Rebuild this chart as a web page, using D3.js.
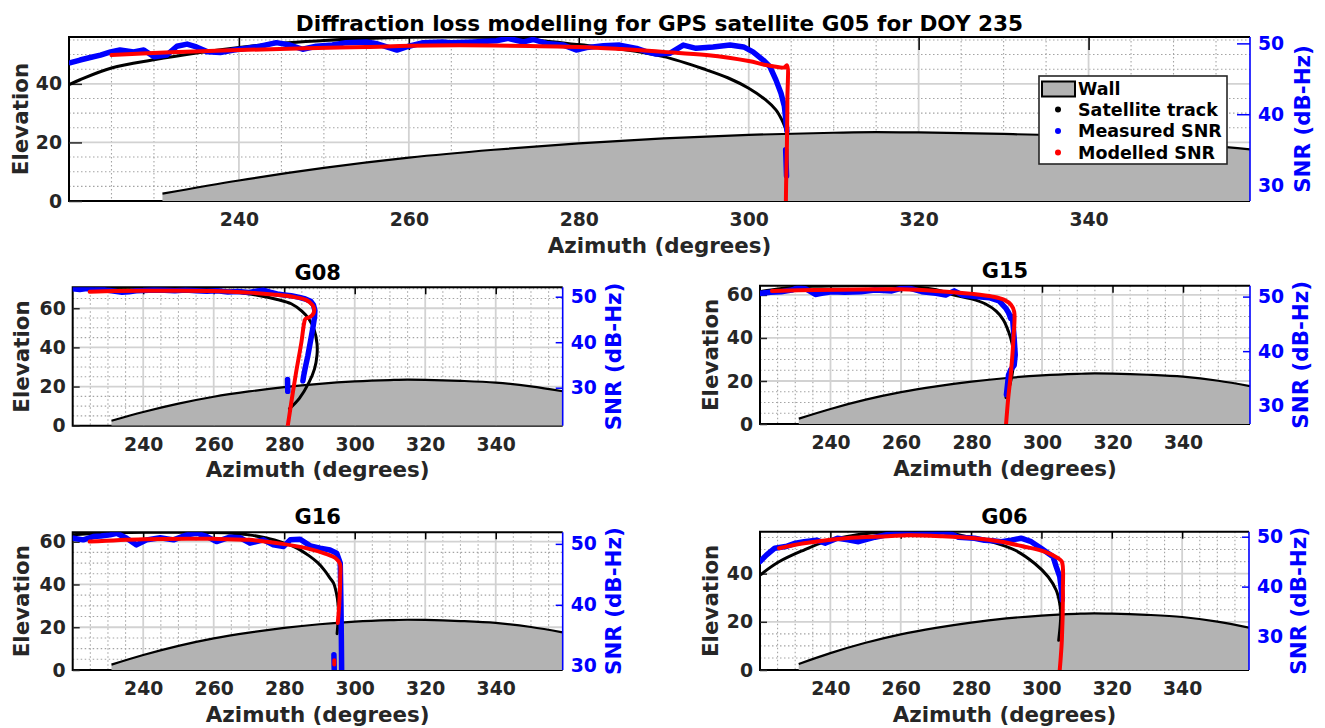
<!DOCTYPE html>
<html>
<head>
<meta charset="utf-8">
<script src="https://cdn.jsdelivr.net/npm/d3@7"></script>
<style>
  body { margin: 0; background: #fff; }
  svg { display: block; }
  text { font-family: "DejaVu Sans", sans-serif; font-weight: bold; }
</style>
</head>
<body>
<svg id="fig" width="1325" height="728"></svg>
<script>
// ---------- shared axis settings ----------
const azDomain = [220, 359];
const azTicks = [240, 260, 280, 300, 320, 340];
const snrTicks = [30, 40, 50];

// Wall profile: [azimuth, elevation]
const wall = [[231,2.5],[240,7.0],[250,11.3],[260,14.8],[270,17.5],[280,19.7],[290,21.4],[300,22.6],
  [310,23.3],[315,23.5],[320,23.4],[330,22.9],[340,22.0],[350,20.1],[359,17.6]];

// ---------- per-satellite settings ----------
const titles = ['Diffraction loss modelling for GPS satellite G05 for DOY 235', 'G08', 'G15', 'G16', 'G06'];
const elevMax = [56, 70.7, 64.3, 64.4, 57.4];
const elevTicks = [[0,20,40],[0,20,40,60],[0,20,40,60],[0,20,40,60],[0,20,40]];
const snrRange = [[27.75,50.9],[21.65,52.07],[26.64,52.0],[29.3,51.9],[23.3,51.0]];

// ---------- G05 ----------
const g05Track = [[220,39.7],[221.3,41.4],[225,45.4],[230,48.2],[235,50.5],[240,52.4],[245,53.9],[250,54.8],
  [255,55.5],[260,55.9],[265,56],[270,55.8],[275,54.9],[280,53.4],[285,51.8],[290,49.3],[295,44.8],[297.6,42],
  [300,38.5],[302,34.5],[303.2,31.1],[303.9,27.7],[304.3,25],[304.5,23.5]];
const g05Measured = [[220.2,47.27],[221.3,47.65],[222.5,48.0],[223.7,48.35],[224.9,48.8],[226.0,49.06],[227.6,48.8],
  [228.8,49.06],[230.0,48.1],[231.5,48.35],[232.7,49.6],[233.9,49.9],[235.0,49.5],[236.3,48.8],[237.8,48.7],
  [239.4,49.06],[240.9,49.3],[242.5,49.6],[244.4,50.1],[246.0,49.76],[247.5,49.17],[249.1,49.6],[251.0,49.76],
  [252.6,50.1],[255.0,50.2],[256.1,50.0],[258.6,49.06],[260.0,49.6],[261.7,50.1],[264.0,50.2],[264.9,50.1],
  [267.6,50.2],[270.3,50.37],[271.7,50.7],[273.5,50.2],[274.6,50.55],[276.2,50.0],[278.2,49.76],[279.7,49.06],
  [280.9,49.4],[282.9,49.67],[284.8,49.76],[286.8,49.3],[288.0,48.8],[289.1,48.5],[290.7,48.6],[292.3,49.76],
  [293.8,49.3],[295.8,49.5],[297.8,49.76],[299.4,49.5],[300.5,48.8],[301.7,47.65],[302.5,46.7],[303.2,44.85],
  [303.8,42.96],[304.2,41.1],[304.4,38.75],[304.5,37.6], null, [304.35,35.0],[304.4,33.2],[304.45,31.3]];
const g05Modelled = [[225,48.35],[232,48.75],[240,49.06],[248,49.3],[255,49.5],[262.5,49.7],[270,49.7],[280,49.5],
  [285,49.2],[290,48.8],[295,48.35],[300,47.5],[302,46.95],[304.2,46.6],[304.5,46.9],[304.55,42],[304.5,36],
  [304.4,30],[304.35,25]];

// ---------- G08 ----------
const g08Track = [[220,70.4],[230,70.6],[240,70.7],[250,70.6],[258,70],[265,68.6],[272,66.8],[278,64.5],[282,62.3],
  [285,58.5],[287,54.5],[288.5,49],[289.3,42],[289.3,36],[288.6,29],[287,22],[284.3,14],[281.5,8.7]];
const g08Measured = [[220,51.75],[222,51.6],[224,51.8],[226,51.5],[228,51.65],[230,51.4],[232,51.2],[234,51.0],
  [236,51.1],[238,51.3],[240,51.35],[243,51.5],[246,51.4],[249,51.3],[252,51.45],[255,51.3],[258,51.2],[261,51.3],
  [264,51.05],[267,51.15],[270,50.95],[272,51.2],[274,51.45],[276,51.0],[278,50.6],[280,50.4],[282,50.2],[284,49.9],
  [286,49.5],[287.5,49.0],[288.3,48.2],[288.7,47.0],[288.6,45.5],[288.1,43],[287.4,40],[286.7,37],[286.0,34.5],
  [285.5,32.5],[285.3,31.5], null, [280.95,31.8],[281.0,29.2]];
const g08Modelled = [[224.8,51.1],[232,51.25],[240,51.3],[250,51.3],[259.7,51.24],[265,51.1],[270.1,50.9],
  [276.7,50.5],[282.4,50.0],[286.2,49.3],[288.0,48.2],[288.5,47.3],[288.2,46.2],[287.2,45.5],[286.0,45.1],
  [285.6,44.0],[284.9,40.1],[283.4,33.5],[282.2,27.7],[281.0,21.6]];

// ---------- G15 ----------
const g15Track = [[220,61.5],[225,62.8],[230,63.6],[235,64],[240,64.2],[250,64.3],[260,64.1],[266,63.4],[270,62.4],
  [275,60],[280,58.2],[284,55.8],[287,52.5],[289,48.5],[290.5,43],[291.5,37.5],[292,31],[291.8,26],[291,19],[289.8,12.3]];
const g15Measured = [[220,50.6],[223,50.8],[226,50.9],[229,51.2],[231,51.7],[233,51.4],[235.7,50.4],[237.5,50.6],
  [240.3,50.9],[244,50.8],[248.6,50.9],[252.6,51.2],[257.4,51.05],[260,51.5],[262.1,51.6],[265.9,50.9],[269.9,50.6],
  [272.7,50.3],[275.1,51.05],[277.4,50.3],[281.2,50.0],[285,49.8],[287.8,49.2],[289.7,47.9],[290.6,46.95],[291.1,46.0],
  [291.6,46.3],[292.1,42.4],[292.4,39.3],[292.1,37.4],[291.1,36.55],[290.5,35.6],[290.2,33.8],[289.9,32.0]];
const g15Modelled = [[223.4,51.05],[235.7,51.2],[252.6,51.35],[260,51.35],[269.9,51.05],[280.3,50.5],[286,50.0],
  [289.3,49.4],[291.2,48.5],[292.1,47.25],[291.9,42.4],[291.2,36.2],[290.4,31.3],[289.8,26.6]];

// ---------- G16 ----------
const g16Track = [[220,63.3],[228,64],[240,64.4],[255,64.4],[265,64],[270,63.2],[275,61.7],[280,59.3],[283,57.5],
  [287,53.5],[289.5,50.2],[291.5,46.5],[293,43],[294,40.6],[294.8,36],[295.3,30.4],[295.4,25],[295.2,21],[295,17]];
const g16Measured = [[220.2,50.93],[223,50.66],[225.8,51.2],[228,51.3],[230.6,51.48],[232.5,51.75],[235.3,50.93],
  [238.1,49.84],[241,50.66],[244.8,51.0],[248.6,50.66],[252.4,51.48],[255.2,51.75],[258.1,51.2],[260.8,50.38],
  [264.6,51.1],[267.5,51.0],[270.3,50.11],[274.1,50.66],[276.9,49.84],[279.8,49.56],[281.7,50.66],[284.5,50.77],
  [287.4,49.67],[290.2,49.3],[293,49.0],[294.9,48.47],[295.9,46.83],[296.1,40],[296.2,35],[296.3,29],
  null, [294.1,31.8],[294.2,29]];
const g16Modelled = [[224.8,50.38],[240,50.77],[259.7,50.83],[270.1,50.66],[279.5,50.0],[286.2,49.3],[291.8,48.36],
  [294.6,47.65],[295.8,46.72],[295.9,44.6],[295.6,40],[295.2,37.0], null, [294.2,30.9],[294.2,30.2]];

// ---------- G06 ----------
const g06Track = [[220,39.4],[225.4,44.9],[232.5,49.8],[238.5,53.3],[244.4,55.3],[250.4,56.7],[257,57.3],[265,57.5],
  [272,57.2],[279.2,55.3],[285.8,53.2],[292.4,49.8],[298.1,44.2],[301.9,38.7],[304.2,33.1],[305.2,27.6],[305.5,23.4],
  [305.3,18],[304.9,12.3]];
const g06Measured = [[220,45.0],[221.8,46.3],[224.2,47.7],[227.7,48.1],[230.1,48.7],[232.5,49.0],[236.1,49.3],
  [238.5,48.7],[242,49.7],[245,49.4],[248,49.0],[252.7,49.9],[256,50.4],[259.9,50.7],[264,50.5],[268.2,50.7],
  [272,51.0],[274.5,50.5],[276.4,49.9],[281,49.7],[283.8,49.3],[286,49.2],[288.6,49.0],[291.4,49.3],[294.2,49.7],
  [297.1,49.0],[299.9,47.7],[301.9,46.7],[303.3,46.0],[304.2,44.0],[305.2,42.0],[305.7,39.3],[305.9,37.3]];
const g06Modelled = [[225.4,47.7],[232.5,48.7],[244.4,49.7],[256.3,50.1],[262,50.3],[271.6,50.1],[281,49.7],
  [288.6,49.0],[295.2,48.0],[300.9,47.0],[304.7,45.7],[305.8,45.0],[306.1,39.3],[305.8,29.3],[305.2,23.3]];

const tracks = [g05Track, g08Track, g15Track, g16Track, g06Track];
const measured = [g05Measured, g08Measured, g15Measured, g16Measured, g06Measured];
const modelled = [g05Modelled, g08Modelled, g15Modelled, g16Modelled, g06Modelled];

// ---------- layout ----------
const frames = [
  { l: 69,   t: 37,    r: 1250, b: 201,   tk: 13, yl: 49, sl: 52, tt: 13.7, ts: 21.6 },
  { l: 72.7, t: 287.3, r: 562.7, b: 425.7, tk: 7,  yl: 51, sl: 51, tt: 15.2, ts: 21 },
  { l: 760,  t: 285.7, r: 1250, b: 424,   tk: 7,  yl: 50, sl: 50, tt: 15.5, ts: 21 },
  { l: 72.7, t: 532.3, r: 562.7, b: 670,   tk: 7,  yl: 51, sl: 51, tt: 15.5, ts: 21 },
  { l: 760,  t: 531.7, r: 1249, b: 670,   tk: 7,  yl: 50, sl: 49, tt: 15.5, ts: 21 }
];

const BLUE = '#0000ff', RED = '#ff0000', INK = '#262626';
const LABEL_SIZE = 21.4, TICK_SIZE = 18.8;
const svg = d3.select('#fig');
const defs = svg.append('defs');

function styleAxis(sel, color, size) {
  sel.select('.domain').remove();
  sel.selectAll('line').attr('stroke', color).attr('stroke-width', 1.5);
  sel.selectAll('text').attr('fill', color).attr('font-size', size)
    .attr('font-family', '"DejaVu Sans", sans-serif').attr('font-weight', 'bold');
}

function drawPanel(i) {
  const f = frames[i];
  const x = d3.scaleLinear().domain(azDomain).range([f.l, f.r]);
  const yE = d3.scaleLinear().domain([0, elevMax[i]]).range([f.b, f.t]);
  const yS = d3.scaleLinear().domain(snrRange[i]).range([f.b, f.t]);
  const g = svg.append('g');
  const cid = 'plotclip' + i;
  defs.append('clipPath').attr('id', cid).append('rect')
    .attr('x', f.l).attr('y', f.t).attr('width', f.r - f.l).attr('height', f.b - f.t);

  // grid
  const minorX = d3.range(225, azDomain[1], 5).filter(v => v % 20 !== 0);
  const minorY = d3.range(5, elevMax[i], 5).filter(v => v % 20 !== 0);
  const majorY = elevTicks[i].filter(v => v > 0);
  const grid = g.append('g');
  grid.selectAll('.mx').data(minorX).join('line')
    .attr('x1', d => x(d)).attr('x2', d => x(d)).attr('y1', f.t).attr('y2', f.b)
    .attr('stroke', '#a4a4a4').attr('stroke-width', 1.1).attr('stroke-dasharray', '1.5,2.5');
  grid.selectAll('.my').data(minorY).join('line')
    .attr('y1', d => yE(d)).attr('y2', d => yE(d)).attr('x1', f.l).attr('x2', f.r)
    .attr('stroke', '#a4a4a4').attr('stroke-width', 1.1).attr('stroke-dasharray', '1.5,2.5');
  grid.selectAll('.Mx').data(azTicks).join('line')
    .attr('x1', d => x(d)).attr('x2', d => x(d)).attr('y1', f.t).attr('y2', f.b)
    .attr('stroke', '#d2d2d2').attr('stroke-width', 1.8);
  grid.selectAll('.My').data(majorY).join('line')
    .attr('y1', d => yE(d)).attr('y2', d => yE(d)).attr('x1', f.l).attr('x2', f.r)
    .attr('stroke', '#d2d2d2').attr('stroke-width', 1.8);

  // box (left, top, bottom)
  g.append('path')
    .attr('d', `M${f.r},${f.t}H${f.l}V${f.b}H${f.r}`)
    .attr('fill', 'none').attr('stroke', '#000').attr('stroke-width', 2);

  // axes
  g.append('g').attr('transform', `translate(0,${f.b})`)
    .call(d3.axisBottom(x).tickValues(azTicks).tickSizeInner(-f.tk).tickSizeOuter(0).tickPadding(12))
    .call(s => styleAxis(s, INK, TICK_SIZE));
  g.append('g').attr('transform', `translate(0,${f.t})`)
    .call(d3.axisTop(x).tickValues(azTicks).tickSizeInner(-f.tk).tickSizeOuter(0).tickFormat(''))
    .call(s => styleAxis(s, '#000', TICK_SIZE));
  g.append('g').attr('transform', `translate(${f.l},0)`)
    .call(d3.axisLeft(yE).tickValues(elevTicks[i]).tickSizeInner(-f.tk).tickSizeOuter(0).tickPadding(7))
    .call(s => styleAxis(s, INK, TICK_SIZE));
  g.append('g').attr('transform', `translate(${f.r},0)`)
    .call(d3.axisRight(yS).tickValues(snrTicks).tickSizeInner(-f.tk).tickSizeOuter(0).tickPadding(8))
    .call(s => styleAxis(s, BLUE, TICK_SIZE));

  // data layers
  const plot = g.append('g').attr('clip-path', `url(#${cid})`);
  const wallArea = d3.area().x(d => x(d[0])).y0(yE(0)).y1(d => yE(d[1])).curve(d3.curveMonotoneX);
  const wallEdge = d3.line().x(d => x(d[0])).y(d => yE(d[1])).curve(d3.curveMonotoneX);
  plot.append('path').attr('d', wallArea(wall)).attr('fill', '#b3b3b3');
  plot.append('path').attr('d', wallEdge(wall)).attr('fill', 'none').attr('stroke', '#000').attr('stroke-width', 2.2);

  const trackLine = d3.line().x(d => x(d[0])).y(d => yE(d[1])).curve(d3.curveCatmullRom.alpha(0.5));
  plot.append('path').attr('d', trackLine(tracks[i])).attr('fill', 'none')
    .attr('stroke', '#000').attr('stroke-width', 3).attr('stroke-linecap', 'round');

  const measLine = d3.line().defined(d => d !== null).x(d => x(d[0])).y(d => yS(d[1]));
  plot.append('path').attr('d', measLine(measured[i])).attr('fill', 'none')
    .attr('stroke', BLUE).attr('stroke-width', 5.5).attr('stroke-linejoin', 'round').attr('stroke-linecap', 'round');

  const modLine = d3.line().defined(d => d !== null).x(d => x(d[0])).y(d => yS(d[1]))
    .curve(d3.curveCatmullRom.alpha(0.5));
  plot.append('path').attr('d', modLine(modelled[i])).attr('fill', 'none')
    .attr('stroke', RED).attr('stroke-width', 4).attr('stroke-linejoin', 'round').attr('stroke-linecap', 'round');

  // right axis line on top
  g.append('line').attr('x1', f.r).attr('x2', f.r).attr('y1', f.t).attr('y2', f.b)
    .attr('stroke', BLUE).attr('stroke-width', 1.6);

  // labels
  g.append('text').attr('x', (f.l + f.r) / 2).attr('y', f.t - f.tt).attr('dy', '0.36em')
    .attr('text-anchor', 'middle').attr('font-size', f.ts).attr('fill', '#000').text(titles[i]);
  g.append('text').attr('x', (f.l + f.r) / 2).attr('y', f.b + 44).attr('dy', '0.36em')
    .attr('text-anchor', 'middle').attr('font-size', LABEL_SIZE).attr('fill', INK).text('Azimuth (degrees)');
  g.append('text').attr('transform', `translate(${f.l - f.yl},${(f.t + f.b) / 2}) rotate(-90)`).attr('dy', '0.36em')
    .attr('text-anchor', 'middle').attr('font-size', LABEL_SIZE).attr('fill', INK).text('Elevation');
  g.append('text').attr('transform', `translate(${f.r + f.sl},${(f.t + f.b) / 2}) rotate(-90)`).attr('dy', '0.36em')
    .attr('text-anchor', 'middle').attr('font-size', LABEL_SIZE).attr('fill', BLUE).text('SNR (dB-Hz)');
}

d3.range(frames.length).forEach(drawPanel);

// legend (top panel)
const legendItems = ['Wall', 'Satellite track', 'Measured SNR', 'Modelled SNR'];
const legendColors = ['#b3b3b3', '#000', BLUE, RED];
const lg = svg.append('g');
lg.append('rect').attr('x', 1039).attr('y', 76).attr('width', 188).attr('height', 88)
  .attr('fill', '#fff').attr('stroke', '#262626').attr('stroke-width', 1.6);
const rowY = [89, 109.5, 131, 152.5];
lg.append('rect').attr('x', 1042).attr('y', 81.5).attr('width', 33).attr('height', 15)
  .attr('fill', legendColors[0]).attr('stroke', '#000').attr('stroke-width', 2);
lg.selectAll('circle').data(legendItems.slice(1)).join('circle')
  .attr('cx', 1058).attr('cy', (d, k) => rowY[k + 1]).attr('r', 3)
  .attr('fill', (d, k) => legendColors[k + 1]);
lg.selectAll('text').data(legendItems).join('text')
  .attr('x', 1078).attr('y', (d, k) => rowY[k]).attr('dy', '0.36em')
  .attr('font-size', 17.5).attr('fill', '#000').text(d => d);
</script>
</body>
</html>
